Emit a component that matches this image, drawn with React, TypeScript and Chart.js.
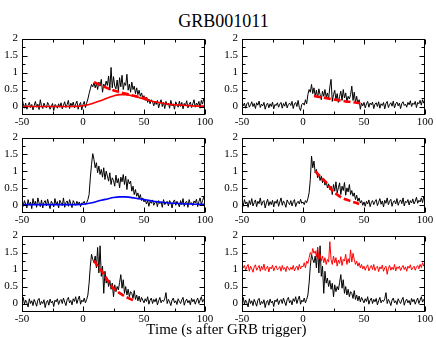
import React, { useEffect, useRef } from "react";
import { Chart, registerables } from "chart.js";

Chart.register(...registerables);

// ---- data -------------------------------------------------------------
const T0 = -50; // time of the first 1-s bin (s after trigger)

const xTicks = [-50, 0, 50, 100];
const xMinor = [-25, 25, 75];
const yTicks = [0, 0.5, 1, 1.5, 2];
const yMinor = [0.25, 0.75, 1.25, 1.75];

// panel 1 (top-left) light curve
const lc1 = [
  0.25, 0.08, -0.05, 0.1, -0.08, 0.04, 0.12, -0.03, 0.06, -0.1,
  0.03, 0.15, -0.02, 0.07, -0.09, 0.2, 0.02, -0.06, 0.1, 0.01,
  -0.04, 0.12, 0.05, -0.08, 0.0, 0.09, -0.12, 0.06, 0.03, -0.05,
  0.08, -0.02, 0.11, -0.07, 0.04, 0.14, -0.03, 0.06, 0.18, -0.06,
  0.1, 0.02, 0.13, -0.04, 0.07, 0.16, -0.08, 0.05, 0.12, -0.1,
  0.06, 0.15, -0.03, 0.1, 0.22, 0.38, 0.52, 0.65, 0.58, 0.7,
  0.55, 0.68, 0.5, 0.72, 0.6, 0.8, 0.42, 0.66, 0.58, 0.75,
  0.62, 0.9, 0.48, 1.15, 0.55, 0.88, 0.6, 0.52, 0.78, 0.45,
  0.85, 0.58, 0.92, 0.5, 0.7, 0.62, 0.95, 0.48, 0.66, 0.42,
  0.72, 0.5, 0.6, 0.38, 0.55, 0.35, 0.48, 0.3, 0.4, 0.25,
  0.32, 0.18, 0.28, 0.12, 0.22, 0.08, 0.2, 0.14, 0.02, 0.16,
  0.06, 0.18, -0.04, 0.1, 0.2, 0.0, 0.12, -0.06, 0.15, 0.04,
  0.1, -0.05, 0.18, 0.02, 0.08, -0.08, 0.14, 0.05, -0.02, 0.16,
  0.0, 0.12, -0.07, 0.09, 0.03, 0.17, -0.04, 0.06, 0.13, -0.03,
  0.08, 0.2, -0.02, 0.1, 0.04, 0.15, -0.05, 0.18, 0.07, 0.25,
  0.05,
];

// panel 2 (top-right) light curve
const lc2 = [
  0.15, 0.02, 0.1, -0.05, 0.08, 0.12, -0.02, 0.05, 0.14, 0.0,
  0.09, -0.06, 0.11, 0.04, 0.16, -0.03, 0.07, 0.02, 0.12, -0.08,
  0.05, 0.1, -0.04, 0.08, 0.0, 0.13, -0.07, 0.06, 0.03, 0.11,
  -0.02, 0.07, 0.12, -0.05, 0.09, 0.01, 0.14, -0.04, 0.06, 0.1,
  0.03, 0.15, -0.06, 0.08, 0.12, 0.0, 0.18, -0.03, -0.12, 0.06,
  0.1, 0.04, 0.2, 0.08, 0.35, 0.5, 0.42, 0.65, 0.38, 0.55,
  0.3, 0.48, 0.25, 0.52, 0.35, 0.2, 0.45, 0.3, 0.5, 0.28,
  0.4, 0.22, 0.58, 0.8, 0.15, 0.35, 0.48, 0.2, 0.38, 0.12,
  0.3, 0.45, 0.18, 0.5, 0.25, 0.4, 0.15, 0.3, 0.22, 0.35,
  0.6, 0.18, 0.42, 0.12, 0.3, 0.08, 0.2, -0.08, 0.1, 0.02,
  0.12, -0.04, 0.08, 0.15, -0.02, 0.1, 0.05, 0.13, -0.06, 0.07,
  0.11, 0.0, 0.14, -0.05, 0.08, 0.03, 0.12, -0.07, 0.09, 0.15,
  -0.03, 0.06, 0.11, 0.01, 0.16, -0.04, 0.08, 0.13, 0.02, 0.1,
  -0.06, 0.09, 0.14, 0.03, 0.07, -0.02, 0.12, 0.05, 0.17, 0.0,
  0.1, 0.06, 0.15, -0.03, 0.12, 0.08, 0.18, 0.04, 0.2, 0.1,
  0.22,
];

// panel 3 (middle-left) light curve
const lc3 = [
  0.2, -0.05, 0.12, 0.02, -0.1, 0.15, -0.02, 0.08, -0.12, 0.18,
  0.0, 0.1, -0.08, 0.2, 0.05, -0.06, 0.14, -0.1, 0.07, 0.12,
  -0.04, 0.16, 0.02, -0.12, 0.1, 0.04, -0.07, 0.18, 0.0, 0.09,
  -0.1, 0.13, 0.05, -0.03, 0.2, -0.08, 0.06, 0.11, -0.05, 0.15,
  0.02, -0.09, 0.12, 0.04, -0.02, 0.1, 0.0, 0.08, -0.06, 0.05,
  0.04, 0.1, 0.0, 0.06, 0.15, 0.3, 0.8, 1.2, 1.52, 1.35,
  1.1, 1.25, 0.95, 1.15, 0.9, 1.05, 0.82, 1.1, 0.75, 1.0,
  0.85, 0.7, 0.95, 0.6, 0.8, 0.72, 0.55, 0.88, 0.65, 0.78,
  0.5, 0.82, 0.68, 0.9, 0.6, 0.85, 0.45, 0.75, 0.62, 0.7,
  0.4, 0.55, 0.3, 0.45, 0.25, 0.35, 0.18, 0.3, 0.12, 0.2,
  0.08, 0.15, 0.02, 0.12, -0.05, 0.1, 0.04, 0.14, -0.02, 0.06,
  0.1, -0.06, 0.12, 0.03, 0.08, -0.08, 0.15, 0.0, 0.05, 0.1,
  -0.04, 0.12, 0.06, -0.1, 0.08, 0.14, -0.02, 0.1, 0.03, -0.07,
  0.12, 0.0, 0.18, -0.05, 0.07, 0.1, -0.08, 0.15, 0.02, 0.06,
  -0.03, 0.11, 0.05, 0.16, -0.06, 0.09, 0.2, 0.0, 0.12, 0.22,
  0.08,
];

// panel 4 (middle-right) light curve
const lc4 = [
  0.1, -0.05, 0.15, 0.02, 0.08, -0.08, 0.12, 0.0, 0.18, -0.04,
  0.06, 0.14, -0.06, 0.1, 0.03, 0.2, -0.02, 0.08, 0.12, -0.1,
  0.05, 0.16, -0.03, 0.09, 0.0, 0.13, -0.07, 0.1, 0.04, 0.15,
  -0.05, 0.08, 0.2, -0.02, 0.11, 0.03, -0.08, 0.14, 0.06, 0.0,
  0.12, -0.04, 0.09, 0.15, -0.06, 0.05, 0.1, 0.02, 0.16, 0.04,
  0.08, 0.0, 0.12, 0.06, 0.18, 0.35, 0.75, 1.45, 1.1, 1.3,
  0.95, 1.05, 0.8, 0.9, 0.72, 0.85, 0.65, 0.78, 0.58, 0.7,
  0.5, 0.62, 0.45, 0.55, 0.3, 0.6, 0.4, 0.68, 0.35, 0.5,
  0.65, 0.3, 0.55, 0.42, 0.66, 0.28, 0.5, 0.38, 0.6, 0.3,
  0.42, 0.25, 0.35, 0.15, 0.28, 0.1, 0.2, 0.05, 0.12, -0.02,
  0.08, -0.05, 0.1, 0.02, 0.14, -0.06, 0.06, 0.12, 0.0, 0.09,
  0.15, -0.03, 0.07, 0.18, 0.01, 0.11, -0.07, 0.13, 0.04, 0.2,
  0.0, 0.1, 0.16, -0.05, 0.08, 0.12, 0.02, 0.18, -0.02, 0.09,
  0.14, 0.03, 0.2, -0.04, 0.1, 0.06, 0.15, -0.01, 0.12, 0.05,
  0.17, 0.02, 0.1, 0.22, 0.04, 0.13, 0.08, 0.2, 0.06, 0.25,
  0.1,
];

// panels 5 and 6 (bottom) light curve
const lc5 = [
  0.05, 0.18, -0.02, 0.1, 0.02, -0.1, 0.14, 0.0, 0.08, -0.06,
  0.12, 0.03, -0.08, 0.1, 0.15, -0.04, 0.06, 0.0, 0.11, -0.12,
  0.04, 0.09, -0.05, 0.13, 0.02, 0.07, -0.09, 0.1, 0.05, 0.14,
  -0.03, 0.08, 0.12, 0.0, 0.16, 0.04, -0.06, 0.11, 0.18, 0.02,
  0.09, -0.04, 0.14, 0.06, 0.2, 0.0, 0.12, 0.22, -0.02, 0.1,
  0.05, 0.16, 0.02, 0.12, 0.25, 0.6, 1.1, 1.45, 1.3, 1.2,
  1.4, 1.05, 1.65, 0.9, 1.7, 0.8, 1.1, 0.3, 0.95, 0.6,
  0.75, 0.5, 0.68, 0.42, 0.6, 0.2, 0.55, 0.35, 0.5, 0.4,
  0.62, 0.85, 0.45, 0.7, 0.3, 0.5, 0.25, 0.42, 0.2, 0.35,
  0.3, 0.15, 0.38, 0.12, 0.25, 0.08, 0.22, 0.05, 0.18, 0.1,
  0.02, 0.14, 0.06, 0.2, -0.02, 0.1, 0.16, 0.0, 0.12, 0.05,
  0.15, -0.04, 0.08, 0.18, 0.02, 0.1, 0.06, 0.14, 0.32, 0.0,
  0.12, 0.05, -0.06, 0.1, 0.16, 0.02, 0.08, -0.03, 0.14, 0.06,
  0.0, 0.11, 0.18, -0.05, 0.07, 0.13, 0.02, 0.09, -0.04, 0.15,
  0.05, 0.12, -0.02, 0.08, 0.16, 0.0, 0.1, 0.2, 0.04, 0.12,
  0.06,
];

// panel 6 red (offset) light curve
const lc6red = [
  1.2, 1.05, 1.12, 0.98, 1.08, 1.15, 0.95, 1.1, 1.02, 0.92,
  1.08, 1.14, 0.98, 1.05, 1.12, 0.95, 1.1, 1.0, 1.16, 0.97,
  1.04, 1.1, 0.93, 1.07, 1.02, 1.13, 0.96, 1.06, 1.11, 0.99,
  1.03, 1.09, 0.95, 1.12, 1.0, 1.06, 0.94, 1.1, 1.04, 0.98,
  1.07, 1.0, 1.12, 0.96, 1.05, 1.1, 0.98, 1.15, 1.02, 1.1,
  1.08, 1.2, 1.05, 1.25, 1.18, 1.35, 1.5, 1.42, 1.62, 1.48,
  1.55, 1.38, 1.65, 1.3, 1.45, 1.25, 1.4, 1.2, 1.35, 1.15,
  1.3, 1.22, 1.82, 1.3, 1.15, 1.4, 1.2, 1.35, 1.1, 1.28,
  1.18, 1.38, 1.12, 1.3, 1.25, 1.45, 1.15, 1.32, 1.2, 1.58,
  1.22, 1.48, 1.3, 1.15, 1.25, 1.1, 1.2, 1.05, 1.15, 1.02,
  1.1, 0.98, 1.08, 1.14, 0.96, 1.05, 1.12, 1.0, 1.15, 0.97,
  1.06, 1.1, 0.94, 1.08, 1.02, 1.13, 0.95, 1.05, 1.1, 0.86,
  1.04, 1.12, 0.98, 1.07, 1.0, 1.15, 0.96, 1.08, 1.03, 1.1,
  0.97, 1.06, 1.12, 1.0, 1.08, 0.95, 1.1, 1.04, 1.14, 0.99,
  1.05, 1.1, 0.98, 1.07, 1.12, 1.02, 1.15, 1.06, 1.2, 1.1,
  1.25,
];

// fitted models
const fit1SmoothX = [-50, -10, -5, 0, 5, 10, 15, 20, 25, 30, 35, 40, 45, 50, 55, 60, 65, 70, 75, 80, 85, 90, 95, 100];
const fit1SmoothY = [0, 0, 0.005, 0.02, 0.06, 0.12, 0.18, 0.25, 0.31, 0.35, 0.35, 0.32, 0.27, 0.22, 0.17, 0.13, 0.1, 0.07, 0.05, 0.04, 0.03, 0.02, 0.01, 0.01];
const fit1DashX = [9, 16, 23, 30, 38, 46, 53];
const fit1DashY = [0.72, 0.6, 0.5, 0.42, 0.35, 0.28, 0.22];
const fit2DashX = [9, 15, 20, 25, 30, 35, 40, 48];
const fit2DashY = [0.31, 0.27, 0.24, 0.21, 0.18, 0.15, 0.13, 0.09];
const fit3X = [-50, -5, 0, 5, 10, 15, 20, 25, 30, 35, 40, 45, 50, 55, 60, 65, 70, 75, 80, 85, 90, 95, 100];
const fit3Y = [0, 0, 0.01, 0.04, 0.08, 0.13, 0.17, 0.21, 0.23, 0.23, 0.21, 0.18, 0.15, 0.12, 0.09, 0.07, 0.05, 0.04, 0.03, 0.02, 0.015, 0.01, 0.01];
const fit4X = [10, 15, 19, 24, 28, 32, 38, 46];
const fit4Y = [1.0, 0.8, 0.66, 0.42, 0.3, 0.2, 0.12, 0.02];
const fit5X = [9, 13, 16.5, 19, 22, 25, 29, 33, 36, 42];
const fit5Y = [1.27, 1.05, 0.9, 0.75, 0.58, 0.45, 0.33, 0.24, 0.18, 0.08];

// ---- helpers ---------------------------------------------------------
const binned = (vals: number[]) => vals.map((v, i) => ({ x: T0 + i, y: v }));
const pairs = (xs: number[], ys: number[]) => xs.map((x, i) => ({ x, y: ys[i] }));

const noisy = (vals: number[], color = "#000") => ({
  data: binned(vals),
  borderColor: color,
  borderWidth: 1,
  pointRadius: 0,
  fill: false,
});
const smooth = (xs: number[], ys: number[], color: string) => ({
  data: pairs(xs, ys),
  borderColor: color,
  borderWidth: 1.6,
  pointRadius: 0,
  fill: false,
  cubicInterpolationMode: "monotone",
});
const dashed = (xs: number[], ys: number[]) => ({
  data: pairs(xs, ys),
  borderColor: "#ff0000",
  borderWidth: 2.6,
  borderDash: [7, 3],
  pointRadius: 0,
  fill: false,
  cubicInterpolationMode: "monotone",
});

const FONT = { family: "'Liberation Serif', 'Times New Roman', serif", size: 11 };

const framePlugin = {
  id: "frame",
  afterDraw(chart: any) {
    const { ctx, chartArea: a, scales } = chart;
    const xs = scales.x;
    const ys = scales.y;
    const L = Math.round(a.left) + 0.5;
    const R = Math.round(a.right) - 0.5;
    const T = Math.round(a.top) + 0.5;
    const B = Math.round(a.bottom) - 0.5;
    ctx.save();
    ctx.strokeStyle = "#000";
    ctx.lineWidth = 1;
    ctx.strokeRect(L, T, R - L, B - T);
    ctx.beginPath();
    const xt = (v: number, len: number) => {
      const p = Math.round(xs.getPixelForValue(v)) + 0.5;
      ctx.moveTo(p, B);
      ctx.lineTo(p, B - len);
      ctx.moveTo(p, T);
      ctx.lineTo(p, T + len);
    };
    const yt = (v: number, len: number) => {
      const p = Math.round(ys.getPixelForValue(v)) + 0.5;
      ctx.moveTo(L, p);
      ctx.lineTo(L + len, p);
      ctx.moveTo(R, p);
      ctx.lineTo(R - len, p);
    };
    xTicks.forEach((v) => xt(v, 5));
    xMinor.forEach((v) => xt(v, 3));
    yTicks.forEach((v) => yt(v, 5));
    yMinor.forEach((v) => yt(v, 3));
    ctx.stroke();
    ctx.restore();
  },
};

const Y_W = 22;
const PAD_T = 6;
const PAD_R = 10;
const X_H = 14;
const PLOT_W = 183;

function Panel({ plotLeft, plotTop, plotH, datasets }: any) {
  const ref = useRef<HTMLCanvasElement | null>(null);
  const w = Y_W + PLOT_W + PAD_R;
  const h = PAD_T + plotH + X_H;
  useEffect(() => {
    const chart = new Chart(ref.current as HTMLCanvasElement, {
      type: "line",
      data: { datasets },
      options: {
        responsive: false,
        animation: false,
        maintainAspectRatio: false,
        layout: { padding: { top: PAD_T, right: PAD_R, left: 0, bottom: 0 } },
        plugins: { legend: { display: false }, tooltip: { enabled: false }, title: { display: false } },
        scales: {
          x: {
            type: "linear",
            min: -50,
            max: 100,
            grid: { display: false, drawTicks: false, tickLength: 0 },
            border: { display: false },
            ticks: {
              font: FONT,
              color: "#000",
              padding: 1,
              maxRotation: 0,
              autoSkip: false,
              callback: (v: any) => String(v),
            },
            afterBuildTicks: (s: any) => {
              s.ticks = xTicks.map((v) => ({ value: v }));
            },
            afterFit: (s: any) => {
              s.height = X_H;
            },
          },
          y: {
            type: "linear",
            min: -0.25,
            max: 2,
            grid: { display: false, drawTicks: false, tickLength: 0 },
            border: { display: false },
            ticks: {
              font: FONT,
              color: "#000",
              padding: 4,
              autoSkip: false,
              callback: (v: any) => String(v),
            },
            afterBuildTicks: (s: any) => {
              s.ticks = yTicks.map((v) => ({ value: v }));
            },
            afterFit: (s: any) => {
              s.width = Y_W;
            },
          },
        },
      } as any,
      plugins: [framePlugin],
    });
    return () => chart.destroy();
  }, []);
  return (
    <canvas
      ref={ref}
      width={w}
      height={h}
      style={{ position: "absolute", left: plotLeft - Y_W, top: plotTop - PAD_T, width: w, height: h }}
    />
  );
}

const COL_L = 22;
const COL_R = 242;

export default function App() {
  const serif = "'Liberation Serif', 'Times New Roman', serif";
  return (
    <div style={{ position: "absolute", left: 0, top: 0, width: 436, height: 337, background: "#fff", overflow: "hidden" }}>
      <div
        style={{
          position: "absolute", left: 123.5, top: 12, width: 200, textAlign: "center",
          fontFamily: serif, fontSize: 18, lineHeight: "18px", color: "#000", whiteSpace: "nowrap",
        }}
      >
        GRB001011
      </div>
      <Panel plotLeft={COL_L} plotTop={34} plotH={81}
        datasets={[dashed(fit1DashX, fit1DashY), smooth(fit1SmoothX, fit1SmoothY, "#ff0000"), noisy(lc1)]} />
      <Panel plotLeft={COL_R} plotTop={34} plotH={81}
        datasets={[dashed(fit2DashX, fit2DashY), noisy(lc2)]} />
      <Panel plotLeft={COL_L} plotTop={133} plotH={80}
        datasets={[smooth(fit3X, fit3Y, "#0000ff"), noisy(lc3)]} />
      <Panel plotLeft={COL_R} plotTop={133} plotH={80}
        datasets={[dashed(fit4X, fit4Y), noisy(lc4)]} />
      <Panel plotLeft={COL_L} plotTop={231} plotH={81}
        datasets={[dashed(fit5X, fit5Y), noisy(lc5)]} />
      <Panel plotLeft={COL_R} plotTop={231} plotH={81}
        datasets={[noisy(lc6red, "#ff0000"), noisy(lc5)]} />
      <div
        style={{
          position: "absolute", left: 126.5, top: 322, width: 200, textAlign: "center",
          fontFamily: serif, fontSize: 15, lineHeight: "15px", color: "#000", whiteSpace: "nowrap",
        }}
      >
        Time (s after GRB trigger)
      </div>
    </div>
  );
}
